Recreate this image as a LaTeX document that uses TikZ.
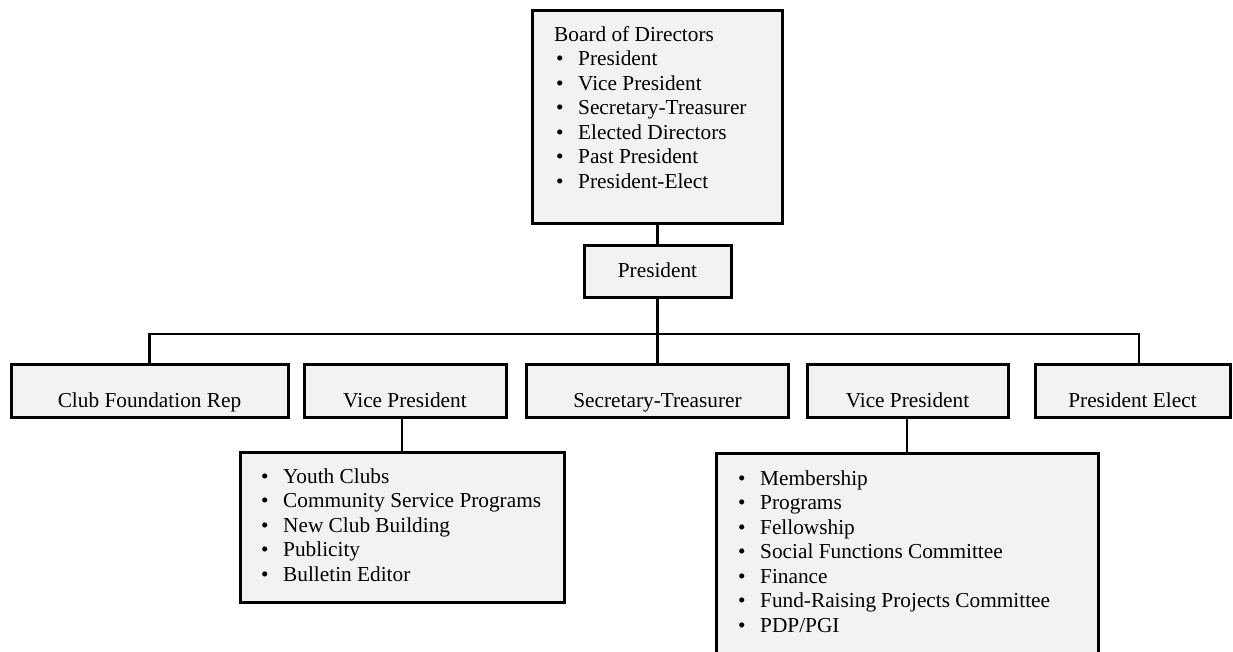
\documentclass[tikz,border=0pt]{standalone}
\usepackage{fontspec}
\setmainfont{Liberation Serif}
\definecolor{boxgray}{HTML}{F2F2F2}
\newcommand\bitem[1]{\makebox[24pt][l]{\hspace{2pt}\textbullet}#1}
\tikzset{
  box/.style={draw=black, fill=boxgray, line width=3pt, inner sep=0pt, outer sep=0pt, anchor=north west},
  conn/.style={draw=black, line width=2.8pt},
  lbl/.style={inner sep=0pt, anchor=base, font=\fontsize{21.3}{24.5}\selectfont},
  lst/.style={inner sep=0pt, anchor=base west, font=\fontsize{21.3}{24.5}\selectfont}
}
\begin{document}
\begin{tikzpicture}[x=1pt, y=-1pt]
  \useasboundingbox (0,0) rectangle (1233,651);
  \clip (0,0) rectangle (1233,651);

  % boxes
  \node[box, minimum width=250pt, minimum height=213pt] (board) at (532.5,10) {};
  \node[box, minimum width=147pt, minimum height=52pt] (pres) at (584,245) {};
  \node[box, minimum width=277pt, minimum height=53pt] (cfr) at (11,364) {};
  \node[box, minimum width=202pt, minimum height=53pt] (vp1) at (304,364) {};
  \node[box, minimum width=262pt, minimum height=53pt] (sec) at (526.5,364) {};
  \node[box, minimum width=201pt, minimum height=53pt] (vp2) at (807,364) {};
  \node[box, minimum width=195pt, minimum height=53pt] (pe) at (1035,364) {};
  \node[box, minimum width=324pt, minimum height=150pt] (list1) at (240,452) {};
  \node[box, minimum width=382pt, minimum height=215pt] (list2) at (716,453) {};

  % connectors
  \coordinate (bus) at (657.5,334);
  \draw[conn] (board.south) -- (pres.north);
  \draw[conn] (pres.south) -- (sec.north);
  \draw[conn] (cfr.north) |- (bus) -| ([xshift=6.5pt]pe.north);
  \draw[conn] (list1.north) -- (list1.north |- vp1.south);
  \draw[conn] (list2.north) -- (list2.north |- vp2.south);

  % texts
  \node[lst] (t-board) at (554,41) {\parbox[t]{240pt}{Board of Directors\\
    \bitem{President}\\
    \bitem{Vice President}\\
    \bitem{Secretary-Treasurer}\\
    \bitem{Elected Directors}\\
    \bitem{Past President}\\
    \bitem{President-Elect}}};
  \node[lbl] (t-pres) at (657.5,277) {President};
  \node[lbl] (t-cfr) at (149.5,407) {Club Foundation Rep};
  \node[lbl] (t-vp1) at (405,407) {Vice President};
  \node[lbl] (t-sec) at (657.5,407) {Secretary-Treasurer};
  \node[lbl] (t-vp2) at (907.5,407) {Vice President};
  \node[lbl] (t-pe) at (1132.5,407) {President Elect};
  \node[lst] (t-list1) at (259,483) {\parbox[t]{300pt}{%
    \bitem{Youth Clubs}\\
    \bitem{Community Service Programs}\\
    \bitem{New Club Building}\\
    \bitem{Publicity}\\
    \bitem{Bulletin Editor}}};
  \node[lst] (t-list2) at (736,485) {\parbox[t]{360pt}{%
    \bitem{Membership}\\
    \bitem{Programs}\\
    \bitem{Fellowship}\\
    \bitem{Social Functions Committee}\\
    \bitem{Finance}\\
    \bitem{Fund-Raising Projects Committee}\\
    \bitem{PDP/PGI}}};
\end{tikzpicture}
\end{document}
